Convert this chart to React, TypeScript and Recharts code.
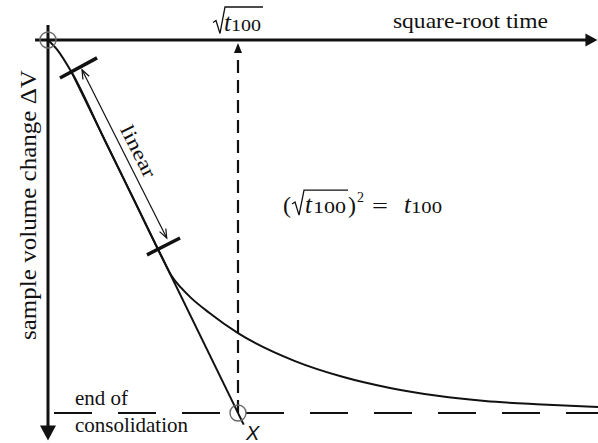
import { ComposedChart, Line, XAxis, YAxis, ReferenceLine, ReferenceDot } from "recharts";

// time axis is square-root time, scaled so that sqrt(t100) = 1
// volume change axis is scaled so that the end of consolidation = 1
const X_MIN = -0.2526;
const X_MAX = 2.8947;
const Y_MIN = -0.1072;
const Y_MAX = 1.0804;

const ROOT_T100 = 1;
const DV_END = 1;

// measured consolidation curve
const curveRootT = [0, 0.05, 0.126, 0.3, 0.45, 0.6, 0.65, 0.7, 0.75, 0.85, 1.0, 1.3, 1.55, 1.8, 2.05, 2.3, 2.6, 2.9];
const curveDV = [0, 0.027, 0.088, 0.27, 0.426, 0.583, 0.632, 0.664, 0.69, 0.732, 0.786, 0.861, 0.903, 0.933, 0.954, 0.968, 0.977, 0.984];

// straight line fitted to the linear part, extended to the end of consolidation
const linearRootT = [0.126, 1.03];
const linearDV = [0.088, 1.031];

// bars marking the ends of the linear part, and the span arrow between them
const upperTickRootT = [0.063, 0.258];
const upperTickDV = [0.102, 0.048];
const lowerTickRootT = [0.521, 0.695];
const lowerTickDV = [0.576, 0.531];
const spanRootT = [0.179, 0.625];
const spanDV = [0.08, 0.531];

const curveData = curveRootT.map((x, i) => ({ x, y: curveDV[i] }));
const linearData = linearRootT.map((x, i) => ({ x, y: linearDV[i] }));
const seg = (xs: number[], ys: number[]) => [
  { x: xs[0], y: ys[0] },
  { x: xs[1], y: ys[1] },
];

const SERIF = "'Liberation Serif', 'Times New Roman', serif";
const INK = "#111";

// triangle for an arrow tip at (x2, y2)
function headPoints(x1: number, y1: number, x2: number, y2: number, len: number, half: number) {
  const d = Math.hypot(x2 - x1, y2 - y1) || 1;
  const ux = (x2 - x1) / d;
  const uy = (y2 - y1) / d;
  const bx = x2 - ux * len;
  const by = y2 - uy * len;
  return {
    pts: `${x2},${y2} ${bx - uy * half},${by + ux * half} ${bx + uy * half},${by - ux * half}`,
    bx,
    by,
  };
}

function HorizontalAxis(p: any) {
  const { x1, y1, x2, y2 } = p;
  const h = headPoints(x1, y1, x2, y2, 12, 6.5);
  return (
    <g>
      <line x1={x1} y1={y1} x2={h.bx + 2} y2={h.by} stroke={INK} strokeWidth={3} />
      <polygon points={h.pts} fill={INK} />
      <text x={x2 - 127} y={y1 - 12} textAnchor="middle" fontFamily={SERIF} fontSize={22} textLength={155} lengthAdjust="spacingAndGlyphs" fill={INK}>
        square-root time
      </text>
    </g>
  );
}

function VerticalAxis(p: any) {
  const { x1, y1, x2, y2 } = p;
  const h = headPoints(x1, y1, x2, y2, 15, 8);
  const tx = x1 - 12;
  const ty = y1 + 180;
  return (
    <g>
      <line x1={x1} y1={y1} x2={h.bx} y2={h.by + 2} stroke={INK} strokeWidth={3} />
      <polygon points={h.pts} fill={INK} />
      <text x={tx} y={ty} transform={`rotate(-90 ${tx} ${ty})`} textAnchor="middle" fontFamily={SERIF} fontSize={23} textLength={270} lengthAdjust="spacingAndGlyphs" fill={INK}>
        sample volume change ΔV
      </text>
    </g>
  );
}

function DashedUpArrow(p: any) {
  const { x1, y1, x2, y2 } = p;
  const h = headPoints(x1, y1, x2, y2, 10, 4);
  return (
    <g>
      <line x1={x1} y1={y1} x2={h.bx} y2={h.by} stroke={INK} strokeWidth={2.2} strokeDasharray="13 7" />
      <polygon points={h.pts} fill={INK} />
    </g>
  );
}

function EndLine(p: any) {
  const { x1, y1, x2, y2 } = p;
  return (
    <g>
      <line x1={x1} y1={y1} x2={x2} y2={y2} stroke={INK} strokeWidth={2} strokeDasharray="38 26" strokeDashoffset={58} />
      <text x={x1 + 27} y={y1 - 8} fontFamily={SERIF} fontSize={21} textLength={53} lengthAdjust="spacingAndGlyphs" fill={INK}>
        end of
      </text>
      <text x={x1 + 27} y={y1 + 19} fontFamily={SERIF} fontSize={21} textLength={113} lengthAdjust="spacingAndGlyphs" fill={INK}>
        consolidation
      </text>
    </g>
  );
}

function Bar(p: any) {
  const { x1, y1, x2, y2 } = p;
  return <line x1={x1} y1={y1} x2={x2} y2={y2} stroke={INK} strokeWidth={3.5} />;
}

function SpanArrow(p: any) {
  const { x1, y1, x2, y2 } = p;
  const a = headPoints(x1, y1, x2, y2, 9, 3.5);
  const b = headPoints(x2, y2, x1, y1, 9, 3.5);
  const open = (pts: string) => {
    const [tip, l, r] = pts.split(" ");
    return `${l} ${tip} ${r}`;
  };
  const dx = x2 - x1;
  const dy = y2 - y1;
  const d = Math.hypot(dx, dy);
  const ux = dx / d;
  const uy = dy / d;
  const ang = (Math.atan2(dy, dx) * 180) / Math.PI;
  const tx = (x1 + x2) / 2 + uy * 7 + ux * 4;
  const ty = (y1 + y2) / 2 - ux * 7 + uy * 4;
  return (
    <g>
      <line x1={x1} y1={y1} x2={x2} y2={y2} stroke={INK} strokeWidth={1.2} />
      <polyline points={open(a.pts)} fill="none" stroke={INK} strokeWidth={1.2} />
      <polyline points={open(b.pts)} fill="none" stroke={INK} strokeWidth={1.2} />
      <text x={tx} y={ty} transform={`rotate(${ang} ${tx} ${ty})`} textAnchor="middle" fontFamily={SERIF} fontSize={20} textLength={56} lengthAdjust="spacingAndGlyphs" fill={INK}>
        linear
      </text>
    </g>
  );
}

function Ring(p: any) {
  return <circle cx={p.cx} cy={p.cy} r={8} fill="none" stroke="#6a6a6a" strokeWidth={1.4} />;
}

function EndRing(p: any) {
  const { cx, cy } = p;
  return (
    <g>
      <circle cx={cx} cy={cy} r={8} fill="none" stroke="#6a6a6a" strokeWidth={1.4} />
      <text x={cx + 8} y={cy + 27} fontFamily="'Liberation Sans', Arial, sans-serif" fontStyle="italic" fontSize={20} fill={INK}>
        X
      </text>
    </g>
  );
}

// radical sign: left tip at (x, y) baseline, top bar at height h, bar length w
function radical(x: number, y: number, h: number, w: number) {
  return `M${x},${y - 9} L${x + 3},${y - 11} L${x + 7},${y + 2} L${x + 12},${y - h} L${x + 12 + w},${y - h}`;
}

function RootT100Label(p: any) {
  const { cx, cy } = p;
  const base = cy - 8.5;
  return (
    <g fill={INK}>
      <path d={radical(cx - 25, base, 24.5, 38)} fill="none" stroke={INK} strokeWidth={1.3} />
      <text x={cx - 14} y={base} fontFamily={SERIF} fontStyle="italic" fontSize={25}>
        t
      </text>
      <text x={cx - 7} y={base} fontFamily={SERIF} fontSize={16} textLength={30} lengthAdjust="spacingAndGlyphs">
        100
      </text>
    </g>
  );
}

function IdentityLabel(p: any) {
  const { cx, cy } = p;
  return (
    <g fill={INK}>
      <text x={cx} y={cy} fontFamily={SERIF} fontSize={24}>
        (
      </text>
      <path d={radical(cx + 9, cy, 23, 44)} fill="none" stroke={INK} strokeWidth={1.3} />
      <text x={cx + 22} y={cy} fontFamily={SERIF} fontStyle="italic" fontSize={25}>
        t
      </text>
      <text x={cx + 30} y={cy} fontFamily={SERIF} fontSize={16} textLength={33} lengthAdjust="spacingAndGlyphs">
        100
      </text>
      <text x={cx + 65} y={cy} fontFamily={SERIF} fontSize={24}>
        )
      </text>
      <text x={cx + 74} y={cy - 11} fontFamily={SERIF} fontSize={14}>
        2
      </text>
      <text x={cx + 89} y={cy} fontFamily={SERIF} fontSize={22} textLength={16} lengthAdjust="spacingAndGlyphs">
        =
      </text>
      <text x={cx + 121} y={cy} fontFamily={SERIF} fontStyle="italic" fontSize={25}>
        t
      </text>
      <text x={cx + 128} y={cy} fontFamily={SERIF} fontSize={16} textLength={31} lengthAdjust="spacingAndGlyphs">
        100
      </text>
    </g>
  );
}

export default function App() {
  return (
    <div style={{ position: "absolute", left: 0, top: 0, background: "#fff" }}>
      <ComposedChart width={598} height={443} margin={{ top: 0, right: 0, bottom: 0, left: 0 }}>
        <XAxis type="number" dataKey="x" domain={[X_MIN, X_MAX]} allowDataOverflow hide />
        <YAxis type="number" dataKey="y" domain={[Y_MIN, Y_MAX]} allowDataOverflow reversed hide />

        <ReferenceLine segment={[{ x: 0, y: DV_END }, { x: X_MAX, y: DV_END }]} ifOverflow="visible" shape={EndLine} />
        <ReferenceLine segment={[{ x: ROOT_T100, y: DV_END }, { x: ROOT_T100, y: 0.008 }]} ifOverflow="visible" shape={DashedUpArrow} />
        <ReferenceLine segment={[{ x: -0.068, y: 0 }, { x: X_MAX - 0.003, y: 0 }]} ifOverflow="visible" shape={HorizontalAxis} />
        <ReferenceLine segment={[{ x: 0, y: -0.04 }, { x: 0, y: 1.074 }]} ifOverflow="visible" shape={VerticalAxis} />

        <Line data={curveData} dataKey="y" type="monotone" stroke={INK} strokeWidth={2} dot={false} activeDot={false} isAnimationActive={false} />
        <Line data={linearData} dataKey="y" type="linear" stroke={INK} strokeWidth={2} dot={false} activeDot={false} isAnimationActive={false} />

        <ReferenceLine segment={seg(upperTickRootT, upperTickDV)} ifOverflow="visible" shape={Bar} />
        <ReferenceLine segment={seg(lowerTickRootT, lowerTickDV)} ifOverflow="visible" shape={Bar} />
        <ReferenceLine segment={seg(spanRootT, spanDV)} ifOverflow="visible" shape={SpanArrow} />

        <ReferenceDot x={0} y={0} r={8} ifOverflow="visible" shape={Ring} />
        <ReferenceDot x={ROOT_T100} y={DV_END} r={8} ifOverflow="visible" shape={EndRing} />
        <ReferenceDot x={ROOT_T100} y={0} r={0} ifOverflow="visible" shape={RootT100Label} />
        <ReferenceDot x={1.237} y={0.464} r={0} ifOverflow="visible" shape={IdentityLabel} />
      </ComposedChart>
    </div>
  );
}
